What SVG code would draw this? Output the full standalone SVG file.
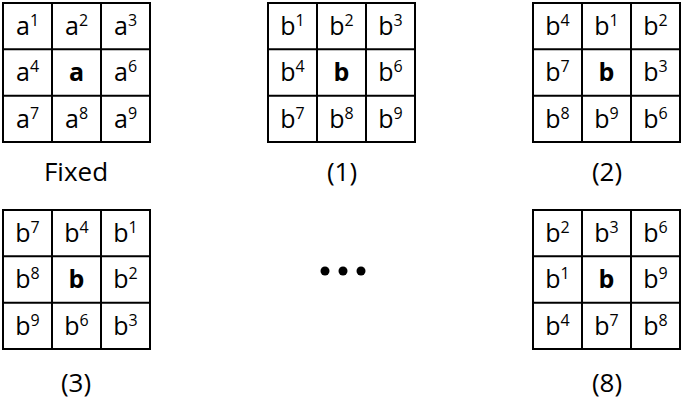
<svg xmlns="http://www.w3.org/2000/svg" width="685" height="400" viewBox="0 0 685 400">
<style>
text{font-family:"Open Sans","Liberation Sans",sans-serif;fill:#000}
.c{font-size:25px;text-anchor:middle}
.c tspan.s{font-size:16px}
.b{font-weight:bold}
.l{font-size:26px;text-anchor:middle}
</style>
<defs>
<g id="grid" fill="#fff" stroke="#000" stroke-width="2"><rect x="0" y="0" width="147" height="139"/><line x1="49" y1="0" x2="49" y2="139"/><line x1="98" y1="0" x2="98" y2="139"/><line x1="0" y1="46.3" x2="147" y2="46.3"/><line x1="0" y1="92.7" x2="147" y2="92.7"/></g>
</defs>
<g id="fixed" transform="translate(3,3)"><use href="#grid"/>
<text class="c" x="24.5" y="32">a<tspan class="s" dy="-9">1</tspan></text>
<text class="c" x="73.5" y="32">a<tspan class="s" dy="-9">2</tspan></text>
<text class="c" x="122.5" y="32">a<tspan class="s" dy="-9">3</tspan></text>
<text class="c" x="24.5" y="78">a<tspan class="s" dy="-9">4</tspan></text>
<text class="c b" x="73.5" y="78">a</text>
<text class="c" x="122.5" y="78">a<tspan class="s" dy="-9">6</tspan></text>
<text class="c" x="24.5" y="125">a<tspan class="s" dy="-9">7</tspan></text>
<text class="c" x="73.5" y="125">a<tspan class="s" dy="-9">8</tspan></text>
<text class="c" x="122.5" y="125">a<tspan class="s" dy="-9">9</tspan></text>
</g>
<g id="g1" transform="translate(268,3)"><use href="#grid"/>
<text class="c" x="24.5" y="32">b<tspan class="s" dy="-9">1</tspan></text>
<text class="c" x="73.5" y="32">b<tspan class="s" dy="-9">2</tspan></text>
<text class="c" x="122.5" y="32">b<tspan class="s" dy="-9">3</tspan></text>
<text class="c" x="24.5" y="78">b<tspan class="s" dy="-9">4</tspan></text>
<text class="c b" x="73.5" y="78">b</text>
<text class="c" x="122.5" y="78">b<tspan class="s" dy="-9">6</tspan></text>
<text class="c" x="24.5" y="125">b<tspan class="s" dy="-9">7</tspan></text>
<text class="c" x="73.5" y="125">b<tspan class="s" dy="-9">8</tspan></text>
<text class="c" x="122.5" y="125">b<tspan class="s" dy="-9">9</tspan></text>
</g>
<g id="g2" transform="translate(533,3)"><use href="#grid"/>
<text class="c" x="24.5" y="32">b<tspan class="s" dy="-9">4</tspan></text>
<text class="c" x="73.5" y="32">b<tspan class="s" dy="-9">1</tspan></text>
<text class="c" x="122.5" y="32">b<tspan class="s" dy="-9">2</tspan></text>
<text class="c" x="24.5" y="78">b<tspan class="s" dy="-9">7</tspan></text>
<text class="c b" x="73.5" y="78">b</text>
<text class="c" x="122.5" y="78">b<tspan class="s" dy="-9">3</tspan></text>
<text class="c" x="24.5" y="125">b<tspan class="s" dy="-9">8</tspan></text>
<text class="c" x="73.5" y="125">b<tspan class="s" dy="-9">9</tspan></text>
<text class="c" x="122.5" y="125">b<tspan class="s" dy="-9">6</tspan></text>
</g>
<g id="g3" transform="translate(3,210)"><use href="#grid"/>
<text class="c" x="24.5" y="32">b<tspan class="s" dy="-9">7</tspan></text>
<text class="c" x="73.5" y="32">b<tspan class="s" dy="-9">4</tspan></text>
<text class="c" x="122.5" y="32">b<tspan class="s" dy="-9">1</tspan></text>
<text class="c" x="24.5" y="78">b<tspan class="s" dy="-9">8</tspan></text>
<text class="c b" x="73.5" y="78">b</text>
<text class="c" x="122.5" y="78">b<tspan class="s" dy="-9">2</tspan></text>
<text class="c" x="24.5" y="125">b<tspan class="s" dy="-9">9</tspan></text>
<text class="c" x="73.5" y="125">b<tspan class="s" dy="-9">6</tspan></text>
<text class="c" x="122.5" y="125">b<tspan class="s" dy="-9">3</tspan></text>
</g>
<g id="g8" transform="translate(533,210)"><use href="#grid"/>
<text class="c" x="24.5" y="32">b<tspan class="s" dy="-9">2</tspan></text>
<text class="c" x="73.5" y="32">b<tspan class="s" dy="-9">3</tspan></text>
<text class="c" x="122.5" y="32">b<tspan class="s" dy="-9">6</tspan></text>
<text class="c" x="24.5" y="78">b<tspan class="s" dy="-9">1</tspan></text>
<text class="c b" x="73.5" y="78">b</text>
<text class="c" x="122.5" y="78">b<tspan class="s" dy="-9">9</tspan></text>
<text class="c" x="24.5" y="125">b<tspan class="s" dy="-9">4</tspan></text>
<text class="c" x="73.5" y="125">b<tspan class="s" dy="-9">7</tspan></text>
<text class="c" x="122.5" y="125">b<tspan class="s" dy="-9">8</tspan></text>
</g>
<g id="labels">
<text class="l" x="76" y="181">Fixed</text>
<text class="l" x="342" y="181">(1)</text>
<text class="l" x="607" y="181">(2)</text>
<text class="l" x="76" y="392">(3)</text>
<text class="l" x="607" y="392">(8)</text>
</g>
<g id="dots" fill="#000"><circle cx="325" cy="271" r="4.5"/><circle cx="343" cy="271" r="4.5"/><circle cx="361" cy="271" r="4.5"/></g>
</svg>
